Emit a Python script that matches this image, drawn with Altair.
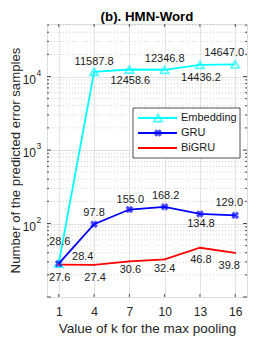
import altair as alt
import pandas as pd

# ---- data ----
k_values = [1, 4, 7, 10, 13, 16]
embedding = [28.6, 11587.8, 12458.6, 12346.8, 14436.2, 14647.0]
gru = [28.4, 97.8, 155.0, 168.2, 134.8, 129.0]
bigru = [27.6, 27.4, 30.6, 32.4, 46.8, 39.8]
series_names = ["Embedding", "GRU", "BiGRU"]
x_ticks = [1, 4, 7, 10, 13, 16]
y_major = [100, 1000, 10000]
y_exponents = ["2", "3", "4"]

# label placement (pixel offsets) per series
emb_off = [(1, -21), (0, -10), (1, 12), (0, -11), (1, 13), (-11, -11)]
gru_off = [(24, -7), (0, -11), (1, -10), (1, -11), (1, 10), (-6, -12)]
bigru_off = [(1, 13), (1, 13), (1, 9), (0, 10), (1, 12), (-6, 13)]

colors = {"Embedding": "#00FFFF", "GRU": "#0000FF", "BiGRU": "#FF0000"}
FONT = "Liberation Sans"
W, H = 200, 273
AX_COLOR = "#262626"

xs = alt.Scale(domain=[0, 17], nice=False)
ys = alt.Scale(type="log", domain=[10, 51800], nice=False)

XAX = alt.Axis(values=x_ticks, title="Value of k for the max pooling",
               grid=True, gridColor="#DCDCDC", gridWidth=0.8,
               domain=False, ticks=False, labelPadding=9,
               labelFontSize=12, titleFontSize=13.5, titleFont=FONT,
               labelFont=FONT, labelColor=AX_COLOR, titleColor=AX_COLOR,
               titlePadding=4, titleFontWeight="normal")
YAX = alt.Axis(values=y_major, labels=False, title=None,
               grid=True, gridColor="#DCDCDC", gridWidth=0.8,
               domain=False, ticks=False)


def X(field="k"):
    return alt.X(f"{field}:Q", scale=xs, axis=XAX)


def Y(field="v"):
    return alt.Y(f"{field}:Q", scale=ys, axis=YAX)


rows = []
for name, vals in zip(series_names, [embedding, gru, bigru]):
    for k, v in zip(k_values, vals):
        rows.append({"series": name, "k": k, "v": v})
df = pd.DataFrame(rows)

minor = []
for dec in [10, 100, 1000, 10000]:
    for m in range(1, 10):
        val = dec * m
        if 10 <= val <= 51800:
            minor.append({"v": val, "major": m == 1})
minor_df = pd.DataFrame(minor)
minor_only = minor_df[~minor_df["major"]]
major_only = minor_df[minor_df["major"]]

# minor dotted grid
minor_grid = alt.Chart(minor_only).mark_rule(color="#C8C8C8", strokeDash=[1, 2], strokeWidth=0.8).encode(
    y=Y())

# inward ticks
tick_df = pd.DataFrame({"k": x_ticks})
xticks_bot = alt.Chart(tick_df).mark_rule(color=AX_COLOR, strokeWidth=0.8).encode(
    x=X(), y=alt.value(H), y2=alt.value(H - 3))
xticks_top = alt.Chart(tick_df).mark_rule(color=AX_COLOR, strokeWidth=0.8).encode(
    x=X(), y=alt.value(0), y2=alt.value(3))
yticks_l_maj = alt.Chart(major_only).mark_rule(color=AX_COLOR, strokeWidth=0.8).encode(
    y=Y(), x=alt.value(0), x2=alt.value(4))
yticks_l_min = alt.Chart(minor_only).mark_rule(color=AX_COLOR, strokeWidth=0.8).encode(
    y=Y(), x=alt.value(0), x2=alt.value(2))
yticks_r_maj = alt.Chart(major_only).mark_rule(color=AX_COLOR, strokeWidth=0.8).encode(
    y=Y(), x=alt.value(W), x2=alt.value(W - 4))
yticks_r_min = alt.Chart(minor_only).mark_rule(color=AX_COLOR, strokeWidth=0.8).encode(
    y=Y(), x=alt.value(W), x2=alt.value(W - 2))

# y tick labels 10^n with real superscripts
ylab_df = pd.DataFrame({"v": y_major, "base": ["10"] * 3, "exp": y_exponents})
ylab_base = alt.Chart(ylab_df).mark_text(align="right", baseline="middle", font=FONT,
                                         fontSize=12, color=AX_COLOR, dy=3).encode(
    y=Y(), x=alt.value(-11), text="base:N")
ylab_exp = alt.Chart(ylab_df).mark_text(align="left", baseline="middle", font=FONT,
                                        fontSize=8.5, color=AX_COLOR, dy=-4).encode(
    y=Y(), x=alt.value(-10.5), text="exp:N")

dummy = pd.DataFrame({"a": [0]})
ytitle = alt.Chart(dummy).mark_text(angle=270, baseline="middle", align="center", font=FONT,
                                    fontSize=13.2, color=AX_COLOR).encode(
    x=alt.value(-31.5), y=alt.value(H / 2), text=alt.value("Number of the predicted error samples"))

layers = [minor_grid, xticks_bot, xticks_top,
          yticks_l_maj, yticks_l_min, yticks_r_maj, yticks_r_min,
          ylab_base, ylab_exp, ytitle]

# lines
for name in series_names:
    sub = df[df.series == name]
    layers.append(alt.Chart(sub).mark_line(color=colors[name], strokeWidth=1.8).encode(
        x=X(), y=Y()))

# markers
layers.append(alt.Chart(df[df.series == "Embedding"]).mark_point(
    shape="triangle-up", color=colors["Embedding"], filled=False, size=70, strokeWidth=1.6).encode(
    x=X(), y=Y()))
layers.append(alt.Chart(df[df.series == "GRU"]).mark_point(
    shape="cross", angle=45, color=colors["GRU"], filled=True, size=60, strokeWidth=0).encode(
    x=X(), y=Y()))
layers.append(alt.Chart(df[df.series == "BiGRU"]).mark_point(
    shape="circle", color=colors["BiGRU"], filled=True, size=4).encode(
    x=X(), y=Y()))

# value labels
for name, vals, offs in zip(series_names, [embedding, gru, bigru], [emb_off, gru_off, bigru_off]):
    for k, v, (dx, dy) in zip(k_values, vals, offs):
        lab = pd.DataFrame({"k": [k], "v": [v], "t": [f"{v:.1f}"]})
        layers.append(alt.Chart(lab).mark_text(
            dx=dx, dy=dy, font=FONT, fontSize=11, color="#1a1a1a", baseline="middle").encode(
            x=X(), y=Y(), text="t:N"))

# legend (manual, MATLAB-style)
leg_box = alt.Chart(dummy).mark_rect(fill="white", stroke=AX_COLOR, strokeWidth=0.8).encode(
    x=alt.value(86), x2=alt.value(193), y=alt.value(84), y2=alt.value(134))
layers.append(leg_box)
leg_rows = [94, 109, 124]
for name, yy in zip(series_names, leg_rows):
    layers.append(alt.Chart(dummy).mark_rule(color=colors[name], strokeWidth=1.8).encode(
        x=alt.value(91), x2=alt.value(130), y=alt.value(yy)))
    layers.append(alt.Chart(dummy).mark_text(align="left", baseline="middle", font=FONT,
                                             fontSize=11, color="#1a1a1a").encode(
        x=alt.value(134), y=alt.value(yy), text=alt.value(name)))
layers.append(alt.Chart(dummy).mark_point(shape="triangle-up", color=colors["Embedding"],
                                          filled=False, size=70, strokeWidth=1.6).encode(
    x=alt.value(111), y=alt.value(leg_rows[0])))
layers.append(alt.Chart(dummy).mark_point(shape="cross", angle=45, color=colors["GRU"],
                                          filled=True, size=60, strokeWidth=0).encode(
    x=alt.value(111), y=alt.value(leg_rows[1])))
layers.append(alt.Chart(dummy).mark_point(shape="circle", color=colors["BiGRU"],
                                          filled=True, size=4).encode(
    x=alt.value(111), y=alt.value(leg_rows[2])))

chart = alt.layer(*layers).properties(
    width=W, height=H,
    title=alt.TitleParams("(b). HMN-Word", font=FONT, fontSize=13.3, fontWeight="bold",
                          color="#000000", offset=0, anchor="middle"),
    autosize=alt.AutoSizeParams(type="none"),
    padding={"left": 39, "top": 16, "right": 18, "bottom": 40},
).configure_view(stroke=AX_COLOR, strokeWidth=0.8).configure(background="white")

chart.save("out.html", embed_options={"renderer": "svg", "actions": False})
